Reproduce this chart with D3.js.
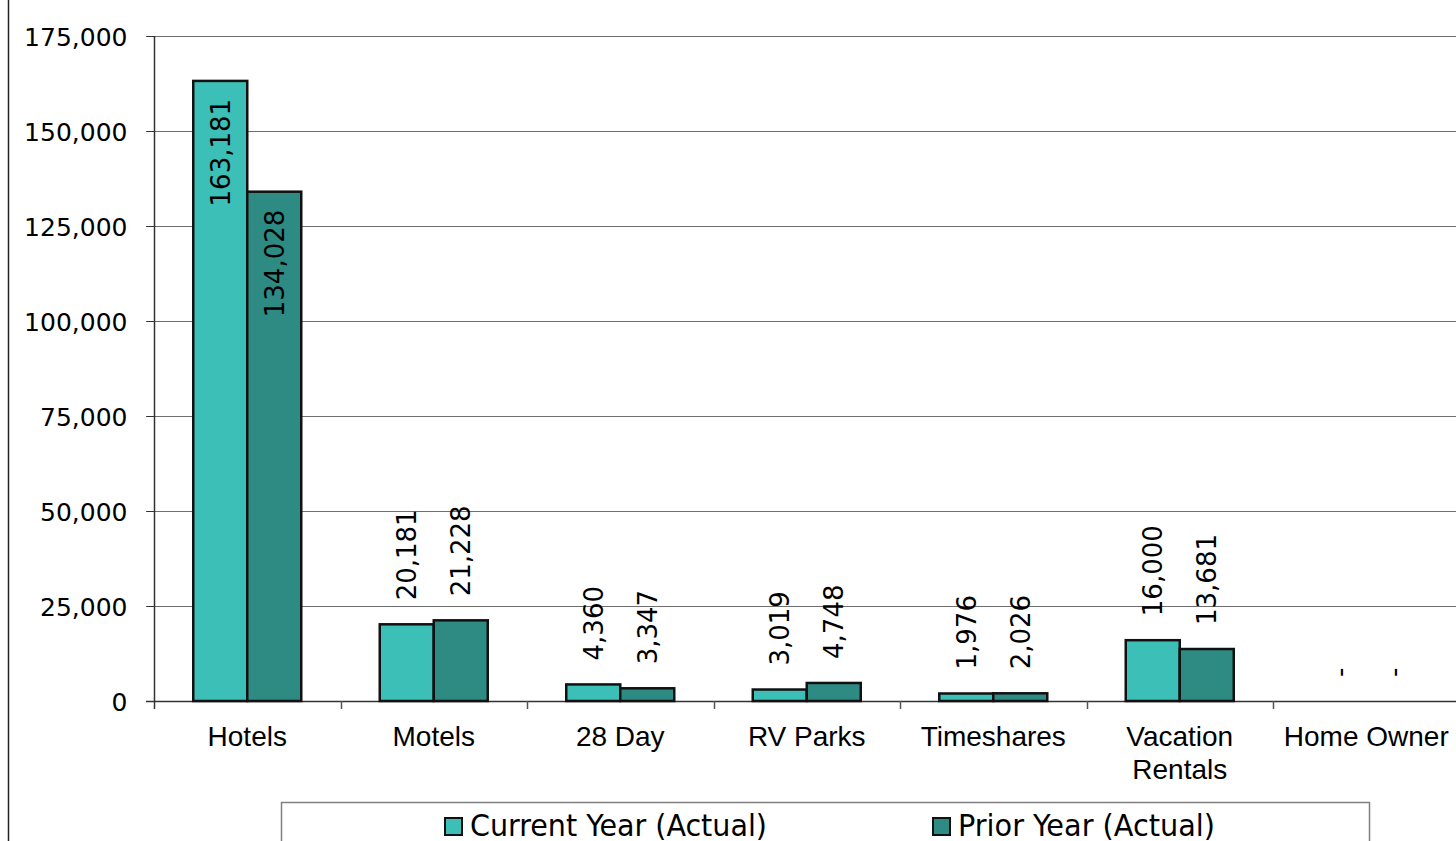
<html>
<head>
<script src="https://cdn.jsdelivr.net/npm/d3@7"></script>
<style>
  body { margin:0; background:#fff; }
  .ylab { font-family: Tahoma, "DejaVu Sans", sans-serif; font-size:25px; fill:#000; }
  .cat { font-family: Arial, "Liberation Sans", sans-serif; font-size:28px; fill:#000; }
  .val { font-family: Tahoma, "DejaVu Sans", sans-serif; font-size:26px; fill:#000; }
  .leg { font-family: Tahoma, "DejaVu Sans Condensed", "DejaVu Sans", sans-serif; font-size:31px; fill:#000; }
</style>
</head>
<body>
<script>
// data
let categories = ["Hotels", "Motels", "28 Day", "RV Parks", "Timeshares", "Vacation\nRentals", "Home Owner"];
let currentYear = [163181, 20181, 4360, 3019, 1976, 16000, 0];
let priorYear = [134028, 21228, 3347, 4748, 2026, 13681, 0];
let seriesNames = ["Current Year (Actual)", "Prior Year (Actual)"];
let yTicks = [0, 25000, 50000, 75000, 100000, 125000, 150000, 175000];

let screen = {width:1456, height:841};
let margin = {top:36, left:154, bottom:140};
let colors = ["#3cbfb6", "#2d8b84"];

let svg = d3.select("body").append("svg")
    .attr("width", screen.width)
    .attr("height", screen.height);

// frame line on the left
svg.append("line")
    .attr("x1", 8.5).attr("x2", 8.5).attr("y1", 0).attr("y2", screen.height)
    .attr("stroke", "#222").attr("stroke-width", 1.5);

let xScale = d3.scaleBand()
    .domain(categories)
    .range([margin.left, margin.left + 186.5 * categories.length]);
let inner = d3.scaleBand()
    .domain([0, 1])
    .range([0, 108]);
let yScale = d3.scaleLinear()
    .domain([0, 175000])
    .range([screen.height - margin.bottom, margin.top]);

let fmt = d3.format(",");
let chart = svg.append("g");

//gridlines
chart.selectAll(".grid")
    .data(yTicks)
    .enter().append("line")
    .attr("class", "grid")
    .attr("x1", margin.left - 8)
    .attr("x2", xScale.range()[1])
    .attr("y1", d => Math.round(yScale(d)) + 0.5).attr("y2", d => Math.round(yScale(d)) + 0.5)
    .attr("stroke", d => d == 0 ? "#333" : "#6e6e6e")
    .attr("stroke-width", d => d == 0 ? 1.5 : 1);

//y-axis
let yAxis = chart.append("g")
    .attr("transform", "translate(" + (margin.left + 0.5) + ",0)")
    .call(d3.axisLeft(yScale).tickValues(yTicks).tickFormat(fmt).tickSize(8).tickPadding(19));
yAxis.select(".domain").attr("stroke", "#333").attr("stroke-width", 1.5)
    .attr("d", "M0," + yScale(175000) + "V" + (yScale(0) + 8));
yAxis.selectAll(".tick line").attr("stroke", "#333").attr("stroke-width", 1);
yAxis.selectAll(".tick text").attr("class", "ylab").attr("font-size", null).attr("font-family", null)
    .attr("dy", "0.36em");
yAxis.attr("font-size", null).attr("font-family", null);

//x ticks at category boundaries
chart.selectAll(".xtick")
    .data(categories.slice(1))
    .enter().append("line")
    .attr("x1", d => Math.round(xScale(d)) + 0.5).attr("x2", d => Math.round(xScale(d)) + 0.5)
    .attr("y1", yScale(0)).attr("y2", yScale(0) + 8)
    .attr("stroke", "#555").attr("stroke-width", 1.5);

//bars
let off = (xScale.bandwidth() - 108) / 2;
[currentYear, priorYear].forEach(function(vals, s) {
    chart.selectAll(".bar" + s)
        .data(vals)
        .enter().append("rect")
        .attr("class", "bar" + s)
        .attr("x", (d, i) => xScale(categories[i]) + off + inner(s))
        .attr("y", d => yScale(d))
        .attr("width", inner.bandwidth())
        .attr("height", d => yScale(0) - yScale(d))
        .attr("fill", colors[s])
        .attr("stroke", d => d > 0 ? "#111" : "none")
        .attr("stroke-width", 2.5);

    chart.selectAll(".val" + s)
        .data(vals)
        .enter().append("text")
        .attr("class", "val")
        .attr("transform", function(d, i) {
            let cx = xScale(categories[i]) + off + inner(s) + inner.bandwidth() / 2;
            let top = yScale(d);
            let y = d > 100000 ? top + 18 : top - 24;
            return "translate(" + cx + "," + y + ") rotate(-90)";
        })
        .attr("text-anchor", d => d > 100000 ? "end" : "start")
        .attr("dy", "0.36em")
        .text(d => d == 0 ? "-" : fmt(d));
});

//category labels
chart.selectAll(".cat")
    .data(categories)
    .enter().append("text")
    .attr("class", "cat")
    .attr("text-anchor", "middle")
    .attr("x", d => xScale(d) + xScale.bandwidth() / 2)
    .attr("y", yScale(0) + 45)
    .each(function(d) {
        let lines = d.split("\n");
        d3.select(this).selectAll("tspan")
            .data(lines).enter().append("tspan")
            .attr("x", d3.select(this).attr("x"))
            .attr("dy", (l, j) => j == 0 ? 0 : 33)
            .text(l => l);
    });

//legend
let legend = svg.append("g");
legend.append("rect")
    .attr("x", 281.5).attr("y", 802.5).attr("width", 1088).attr("height", 80)
    .attr("fill", "none").attr("stroke", "#808080").attr("stroke-width", 1.5);
let legX = [445, 933];
let legW = [297, 257];
seriesNames.forEach(function(name, s) {
    legend.append("rect")
        .attr("x", legX[s]).attr("y", 818).attr("width", 17).attr("height", 17)
        .attr("fill", colors[s]).attr("stroke", "#111").attr("stroke-width", 2);
    legend.append("text")
        .attr("class", "leg")
        .attr("x", legX[s] + 25).attr("y", 836)
        .attr("textLength", legW[s]).attr("lengthAdjust", "spacingAndGlyphs")
        .text(name);
});
</script>
</body>
</html>
